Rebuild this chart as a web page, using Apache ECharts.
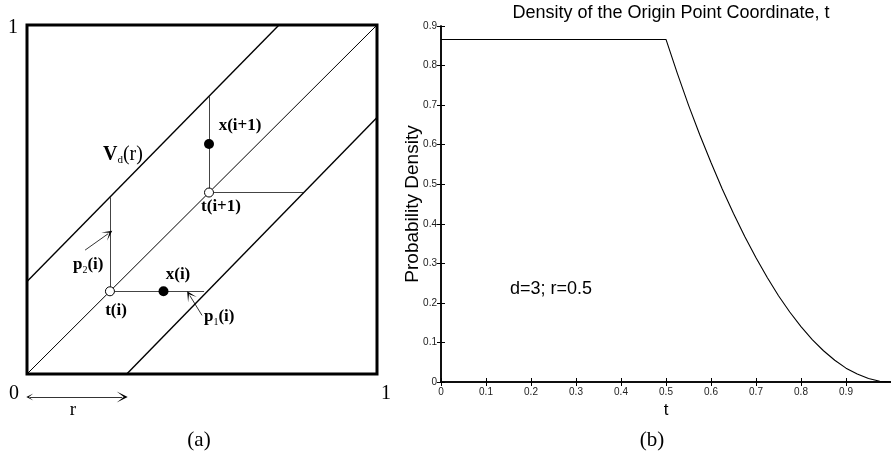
<!DOCTYPE html>
<html>
<head>
<meta charset="utf-8">
<script src="https://cdn.jsdelivr.net/npm/echarts@6/dist/echarts.min.js"></script>
<style>
  html, body { margin: 0; padding: 0; background: #fff; }
  #main { width: 891px; height: 459px; }
</style>
</head>
<body>
<div id="main"></div>
<script>
// ---- panel (b): density of t ----
var tValues = [0, 0.5, 0.525, 0.55, 0.575, 0.6, 0.625, 0.65, 0.675, 0.7, 0.725, 0.75,
               0.775, 0.8, 0.825, 0.85, 0.875, 0.9, 0.925, 0.95, 0.975, 1.0];
var density = [0.866, 0.866, 0.781, 0.70, 0.625, 0.555, 0.488, 0.426, 0.368, 0.314, 0.264, 0.218,
               0.177, 0.14, 0.107, 0.079, 0.055, 0.035, 0.02, 0.009, 0.002, 0];
var xTicks = [0, 0.1, 0.2, 0.3, 0.4, 0.5, 0.6, 0.7, 0.8, 0.9, 1];
var yTicks = [0, 0.1, 0.2, 0.3, 0.4, 0.5, 0.6, 0.7, 0.8, 0.9];

// ---- panel (a): diagram in the unit square ----
var mainDiagonal = [[0, 0], [1, 1]];
var upperBand = [[0, 0.265], [0.72, 1]];
var lowerBand = [[0.285, 0], [1, 0.735]];
var projections = [
  [[0.237, 0.237], [0.506, 0.237]],
  [[0.237, 0.237], [0.237, 0.506]],
  [[0.52, 0.52], [0.79, 0.52]],
  [[0.52, 0.52], [0.52, 0.795]]
];
var originPoints = [[0.237, 0.237], [0.52, 0.52]];   // t(i), t(i+1)
var samplePoints = [[0.39, 0.237], [0.52, 0.659]];   // x(i), x(i+1)
var pointerArrows = [
  [[0.166, 0.355], [0.232, 0.402]],   // p2(i)
  [[0.5, 0.168], [0.465, 0.225]]      // p1(i)
];
var rArrow = [[0.008, -0.066], [0.272, -0.066]];

var curve = tValues.map(function (t, i) { return [t, density[i]]; });

var serif = "'Liberation Serif', 'Times New Roman', serif";
var sans = "'Liberation Sans', Arial, Helvetica, sans-serif";
var arrowHead = 'path://M5,0 L10,14 L5,5 L0,14 Z';

var myChart = echarts.init(document.getElementById('main'));

var option = {
  animation: false,
  backgroundColor: '#fff',
  title: {
    text: 'Density of the Origin Point Coordinate, t',
    left: 666,
    top: -1,
    textAlign: 'center',
    textStyle: { fontFamily: sans, fontSize: 18, fontWeight: 'normal', color: '#000' }
  },
  grid: [
    { left: 27, top: 25, width: 350, height: 349, show: true,
      borderColor: '#000', borderWidth: 3, backgroundColor: 'transparent' },
    { left: 441, top: 26, width: 452, height: 356, show: false }
  ],
  xAxis: [
    { gridIndex: 0, type: 'value', min: 0, max: 1, show: false },
    { gridIndex: 1, type: 'value', min: 0, max: 1, interval: 0.1,
      name: 't', nameLocation: 'middle', nameGap: 17,
      nameTextStyle: { fontFamily: sans, fontSize: 17, color: '#000' },
      axisLine: { lineStyle: { color: '#000', width: 1.5 } },
      axisTick: { inside: true, length: 4, lineStyle: { color: '#000' } },
      axisLabel: { fontFamily: sans, fontSize: 10, color: '#222', margin: 5, showMaxLabel: false },
      splitLine: { show: false } },
    { gridIndex: 1, type: 'value', min: 0, max: 1, interval: 0.1, position: 'top',
      axisLine: { lineStyle: { color: '#000', width: 1.5 } },
      axisTick: { inside: true, length: 4, lineStyle: { color: '#000' } },
      axisLabel: { show: false }, splitLine: { show: false } }
  ],
  yAxis: [
    { gridIndex: 0, type: 'value', min: 0, max: 1, show: false },
    { gridIndex: 1, type: 'value', min: 0, max: 0.9, interval: 0.1,
      name: 'Probability Density', nameLocation: 'middle', nameGap: 19, nameRotate: 90,
      nameMoveOverlap: false,
      nameTextStyle: { fontFamily: sans, fontSize: 19, color: '#000' },
      axisLine: { show: true, lineStyle: { color: '#000', width: 1.5 } },
      axisTick: { show: true, inside: true, length: 4, lineStyle: { color: '#000' } },
      axisLabel: { fontFamily: sans, fontSize: 10, color: '#222', margin: 4 },
      splitLine: { show: false } },
    { gridIndex: 1, type: 'value', min: 0, max: 0.9, interval: 0.1, position: 'right',
      axisLine: { show: true, lineStyle: { color: '#000', width: 1.5 } },
      axisTick: { show: true, inside: true, length: 4, lineStyle: { color: '#000' } },
      axisLabel: { show: false }, splitLine: { show: false } }
  ],
  series: [
    // panel (a)
    { type: 'line', xAxisIndex: 0, yAxisIndex: 0, data: mainDiagonal, symbol: 'none',
      lineStyle: { color: '#000', width: 1 } },
    { type: 'line', xAxisIndex: 0, yAxisIndex: 0, data: upperBand, symbol: 'none',
      lineStyle: { color: '#000', width: 1.4 } },
    { type: 'line', xAxisIndex: 0, yAxisIndex: 0, data: lowerBand, symbol: 'none',
      lineStyle: { color: '#000', width: 1.4 } },
    { type: 'lines', coordinateSystem: 'cartesian2d', xAxisIndex: 0, yAxisIndex: 0,
      data: projections.map(function (c) { return { coords: c }; }),
      lineStyle: { color: '#444', width: 1, opacity: 1 } },
    { type: 'lines', coordinateSystem: 'cartesian2d', xAxisIndex: 0, yAxisIndex: 0,
      data: pointerArrows.map(function (c) { return { coords: c }; }),
      symbol: ['none', arrowHead], symbolSize: [6, 10],
      lineStyle: { color: '#000', width: 0.8, opacity: 1 } },
    { type: 'lines', coordinateSystem: 'cartesian2d', xAxisIndex: 0, yAxisIndex: 0,
      clip: false,
      data: [{ coords: rArrow }],
      symbol: [arrowHead, arrowHead], symbolSize: [7, 11],
      lineStyle: { color: '#000', width: 0.8, opacity: 1 } },
    { type: 'scatter', xAxisIndex: 0, yAxisIndex: 0, data: originPoints, symbol: 'circle',
      symbolSize: 9, z: 5,
      itemStyle: { color: '#fff', borderColor: '#000', borderWidth: 1, opacity: 1 } },
    { type: 'scatter', xAxisIndex: 0, yAxisIndex: 0, data: samplePoints, symbol: 'circle',
      symbolSize: 10, z: 5, itemStyle: { color: '#000', opacity: 1 } },
    // panel (b)
    { type: 'line', xAxisIndex: 1, yAxisIndex: 1, data: curve, symbol: 'none',
      lineStyle: { color: '#000', width: 1.1 } }
  ],
  graphic: [
    { type: 'text', x: 13, y: 28, style: { text: '1', font: '20px ' + serif, fill: '#000', align: 'center', verticalAlign: 'middle' } },
    { type: 'text', x: 14, y: 394, style: { text: '0', font: '20px ' + serif, fill: '#000', align: 'center', verticalAlign: 'middle' } },
    { type: 'text', x: 386, y: 394, style: { text: '1', font: '20px ' + serif, fill: '#000', align: 'center', verticalAlign: 'middle' } },
    { type: 'text', x: 73, y: 410, style: { text: 'r', font: '19px ' + serif, fill: '#000', align: 'center', verticalAlign: 'middle' } },
    { type: 'text', x: 199, y: 440, style: { text: '(a)', font: '21px ' + serif, fill: '#000', align: 'center', verticalAlign: 'middle' } },
    { type: 'text', x: 652, y: 440, style: { text: '(b)', font: '21px ' + serif, fill: '#000', align: 'center', verticalAlign: 'middle' } },
    { type: 'text', x: 510, y: 289, style: { text: 'd=3; r=0.5', font: '18px ' + sans, fill: '#000', align: 'left', verticalAlign: 'middle' } },
    { type: 'text', x: 240, y: 126, style: { text: 'x(i+1)', font: 'bold 17px ' + serif, fill: '#000', align: 'center', verticalAlign: 'middle' } },
    { type: 'text', x: 221, y: 207, style: { text: 't(i+1)', font: 'bold 17px ' + serif, fill: '#000', align: 'center', verticalAlign: 'middle' } },
    { type: 'text', x: 178, y: 275, style: { text: 'x(i)', font: 'bold 17px ' + serif, fill: '#000', align: 'center', verticalAlign: 'middle' } },
    { type: 'text', x: 116, y: 311, style: { text: 't(i)', font: 'bold 17px ' + serif, fill: '#000', align: 'center', verticalAlign: 'middle' } },
    { type: 'text', x: 73, y: 265, style: {
        text: '{b|p}{s|2}{b|(i)}', align: 'left', verticalAlign: 'middle',
        rich: {
          b: { fontFamily: serif, fontWeight: 'bold', fontSize: 17, lineHeight: 20, fill: '#000' },
          s: { fontFamily: serif, fontSize: 10, lineHeight: 6, verticalAlign: 'bottom', fill: '#000' }
        } } },
    { type: 'text', x: 204, y: 317, style: {
        text: '{b|p}{s|1}{b|(i)}', align: 'left', verticalAlign: 'middle',
        rich: {
          b: { fontFamily: serif, fontWeight: 'bold', fontSize: 17, lineHeight: 20, fill: '#000' },
          s: { fontFamily: serif, fontSize: 10, lineHeight: 6, verticalAlign: 'bottom', fill: '#000' }
        } } },
    { type: 'text', x: 103, y: 155, style: {
        text: '{v|V}{s|d}{r|(r)}', align: 'left', verticalAlign: 'middle',
        rich: {
          v: { fontFamily: serif, fontWeight: 'bold', fontSize: 20, lineHeight: 22, fill: '#000' },
          s: { fontFamily: serif, fontSize: 11, lineHeight: 7, verticalAlign: 'bottom', fill: '#000' },
          r: { fontFamily: serif, fontSize: 20, lineHeight: 22, fill: '#000' }
        } } }
  ]
};

myChart.setOption(option);
</script>
</body>
</html>
